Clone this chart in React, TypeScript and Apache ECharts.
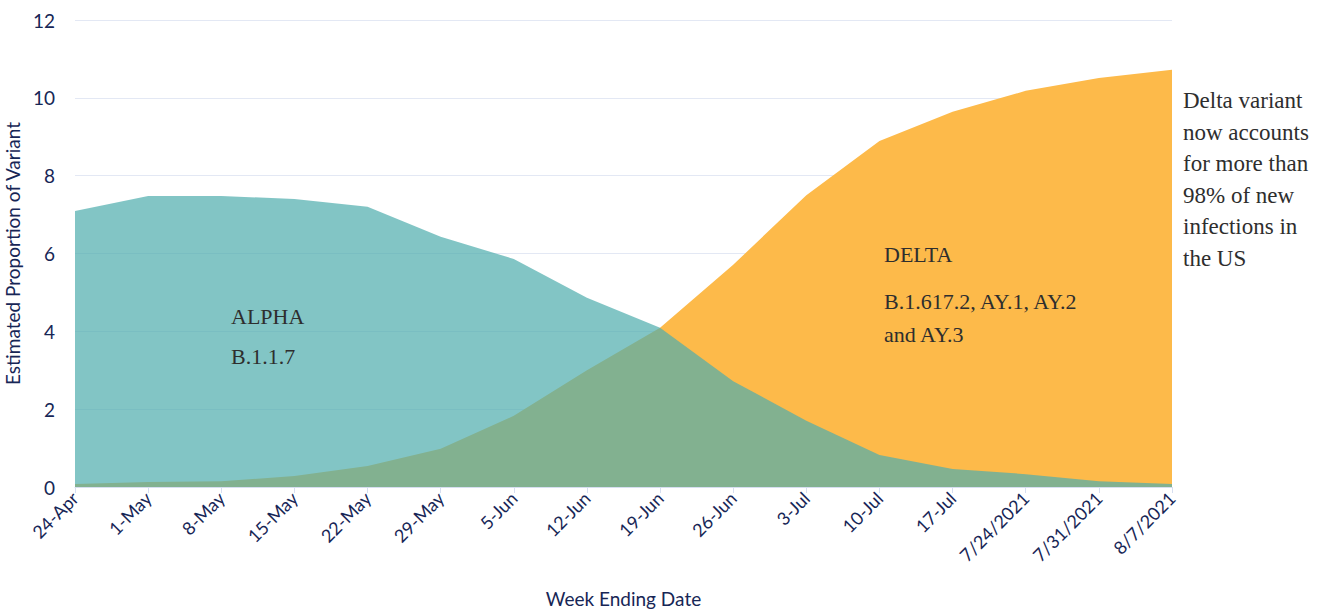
import React, { useEffect, useRef } from "react";
import * as echarts from "echarts";

const categories = ["24-Apr", "1-May", "8-May", "15-May", "22-May", "29-May", "5-Jun", "12-Jun", "19-Jun", "26-Jun", "3-Jul", "10-Jul", "17-Jul", "7/24/2021", "7/31/2021", "8/7/2021"];
const alphaValues = [7.09, 7.48, 7.48, 7.4, 7.2, 6.43, 5.86, 4.86, 4.09, 2.72, 1.7, 0.82, 0.46, 0.33, 0.15, 0.08];
const deltaValues = [0.08, 0.13, 0.15, 0.28, 0.54, 0.98, 1.83, 3.0, 4.09, 5.71, 7.5, 8.89, 9.64, 10.18, 10.51, 10.72];
const yTicks = { min: 0, max: 12, interval: 2 };
const sideNote = ["Delta variant", "now accounts", "for more than", "98% of new", "infections in", "the US"];

const AXIS_COLOR = "#172656";
const SERIF = "'Liberation Serif', 'DejaVu Serif', serif";

export default function App() {
  const ref = useRef<HTMLDivElement>(null);
  useEffect(() => {
    if (!ref.current) return;
    const chart = echarts.init(ref.current, undefined, { renderer: "svg" });
    chart.setOption({
      animation: false,
      grid: { left: 75, right: 163, top: 20, bottom: 126, containLabel: false, outerBoundsMode: "none" },
      xAxis: {
        type: "category",
        data: categories,
        boundaryGap: false,
        name: "Week Ending Date",
        nameLocation: "middle",
        nameGap: 102,
        nameTextStyle: { color: AXIS_COLOR, fontSize: 19, fontFamily: "Lato" },
        axisLine: { lineStyle: { color: "#d6def0" } },
        axisTick: { show: true, lineStyle: { color: "#d6def0" }, length: 6 },
        axisLabel: { rotate: 45, color: AXIS_COLOR, fontSize: 18, fontFamily: "Lato", margin: 8 },
      },
      yAxis: {
        type: "value",
        min: yTicks.min,
        max: yTicks.max,
        interval: yTicks.interval,
        name: "Estimated Proportion of Variant",
        nameLocation: "middle",
        nameGap: 49,
        nameTextStyle: { color: AXIS_COLOR, fontSize: 19, fontFamily: "Lato" },
        axisLine: { show: false },
        axisTick: { show: false },
        splitLine: { lineStyle: { color: "#e3e8f4" } },
        axisLabel: { color: AXIS_COLOR, fontSize: 19, fontFamily: "Lato", margin: 20 },
      },
      series: [
        {
          name: "DELTA",
          type: "line",
          data: deltaValues,
          symbol: "none",
          lineStyle: { width: 0 },
          areaStyle: { color: "#fdba4a", opacity: 1 },
          z: 2,
        },
        {
          name: "ALPHA",
          type: "line",
          data: alphaValues,
          symbol: "none",
          lineStyle: { width: 0 },
          areaStyle: { color: "#4fadad", opacity: 0.71 },
          z: 3,
        },
      ],
      graphic: [
        {
          type: "text",
          left: 231,
          top: 305,
          style: { text: "ALPHA", font: `22px ${SERIF}`, fill: "#2e2e2e" },
          z: 10,
        },
        {
          type: "text",
          left: 231,
          top: 345,
          style: { text: "B.1.1.7", font: `22px ${SERIF}`, fill: "#2e2e2e" },
          z: 10,
        },
        {
          type: "text",
          left: 884,
          top: 243,
          style: { text: "DELTA", font: `22px ${SERIF}`, fill: "#2e2e2e" },
          z: 10,
        },
        {
          type: "text",
          left: 884,
          top: 285,
          style: { text: "B.1.617.2, AY.1, AY.2\nand AY.3", font: `22px ${SERIF}`, fill: "#2e2e2e", lineHeight: 33 },
          z: 10,
        },
        {
          type: "text",
          left: 1183,
          top: 85,
          style: { text: sideNote.join("\n"), font: `23px ${SERIF}`, fill: "#2e2e2e", lineHeight: 31.5 },
          z: 10,
        },
      ],
    });
    return () => chart.dispose();
  }, []);
  return <div ref={ref} style={{ width: 1335, height: 613, position: "absolute", left: 0, top: 0 }} />;
}
